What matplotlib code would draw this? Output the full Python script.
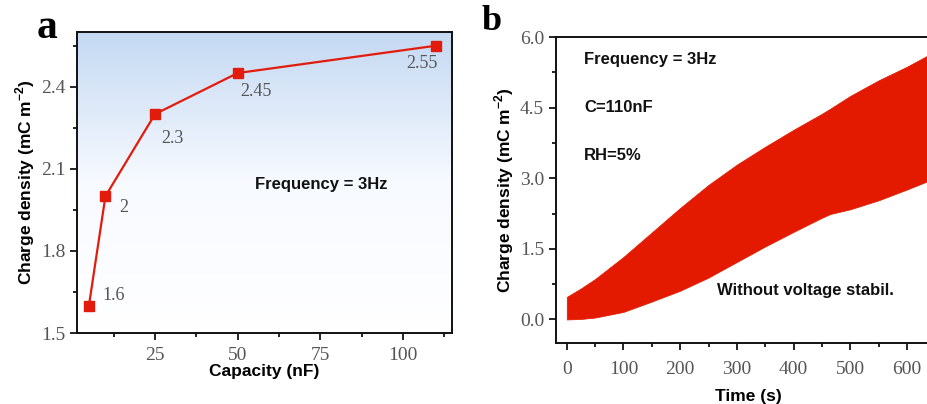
import numpy as np
import matplotlib
matplotlib.use("Agg")
import matplotlib.pyplot as plt
from matplotlib.ticker import MultipleLocator, FormatStrFormatter
from matplotlib.colors import LinearSegmentedColormap

# panel a: charge density vs. capacity
capacity = [5, 10, 25, 50, 110]
density = [1.6, 2.0, 2.3, 2.45, 2.55]

# panel b: envelope of the charge density trace
time_s = [0, 25, 50, 100, 150, 200, 250, 300, 350, 400, 450, 465, 500, 550, 600, 660]
upper = [0.48, 0.66, 0.86, 1.33, 1.85, 2.37, 2.86, 3.29, 3.67, 4.03, 4.37, 4.48, 4.75, 5.08, 5.37, 5.76]
lower = [0.00, 0.01, 0.04, 0.16, 0.38, 0.61, 0.89, 1.22, 1.55, 1.86, 2.16, 2.24, 2.34, 2.53, 2.76, 3.05]

plt.rcParams['font.family'] = ['Liberation Serif', 'DejaVu Serif']
plt.rcParams['mathtext.fontset'] = 'custom'
plt.rcParams['mathtext.rm'] = 'Liberation Sans:bold'
plt.rcParams['mathtext.bf'] = 'Liberation Sans:bold'

sans = ['Liberation Sans', 'DejaVu Sans']
red = '#e31b0c'
grey = '#555555'
ylab = r'Charge density (mC m$^{\mathbf{-2}}$)'

fig = plt.figure(figsize=(9.27, 4.04), dpi=100)
W, H = 927, 404


def px_axes(l, t, r, b):
    return fig.add_axes([l / W, 1 - b / H, (r - l) / W, (b - t) / H])


def style(ax):
    for s in ax.spines.values():
        s.set_linewidth(1.4)
        s.set_color('#111111')
    ax.tick_params(which='both', direction='out', top=False, right=False,
                   labelsize=14, labelcolor=grey, width=1.2)
    ax.tick_params(which='major', length=5)
    ax.tick_params(which='minor', length=3)


# ---------- panel a ----------
ax1 = px_axes(77, 32, 452, 333)
cmap = LinearSegmentedColormap.from_list('bg', [(1, 1, 1), (0.97, 0.98, 1.0), (0.77, 0.85, 0.95)])
grad = np.linspace(0, 1, 256).reshape(-1, 1)
ax1.imshow(grad, cmap=cmap, aspect='auto', extent=[0, 1, 0, 1],
           transform=ax1.transAxes, origin='lower', zorder=0)
ax1.plot(capacity, density, color=red, lw=1.6, marker='s', ms=7,
         mfc=red, mec=red, zorder=3)

offsets = [(14, 10), (14, -11), (6, -24), (3, -18), (1, -18)]
aligns = ['left', 'left', 'left', 'left', 'right']
for xv, yv, off, ha in zip(capacity, density, offsets, aligns):
    ax1.annotate(f'{yv:g}', (xv, yv), xytext=off, textcoords='offset pixels',
                 ha=ha, va='center', fontsize=13, color=grey)

ax1.text(0.475, 0.492, 'Frequency = 3Hz', transform=ax1.transAxes,
         family=sans, fontweight='bold', fontsize=12, va='center', color='#111111')

ax1.set_xlim(1.4, 114.8)
ax1.set_ylim(1.5, 2.6)
ax1.xaxis.set_major_locator(MultipleLocator(25))
ax1.xaxis.set_minor_locator(MultipleLocator(12.5))
ax1.yaxis.set_major_locator(MultipleLocator(0.3))
ax1.yaxis.set_minor_locator(MultipleLocator(0.15))
ax1.yaxis.set_major_formatter(FormatStrFormatter('%.1f'))
style(ax1)
ax1.tick_params(axis='x', pad=5)
ax1.set_xlabel('Capacity (nF)', family=sans, fontweight='bold', fontsize=12.5, labelpad=0)
ax1.set_ylabel(ylab, family=sans, fontweight='bold', fontsize=12.5, labelpad=3)

fig.text(47 / W, 1 - 38 / H, 'a', fontsize=30, fontweight='bold', ha='center', va='baseline')

# ---------- panel b ----------
ax2 = px_axes(556, 37, 556 + 679 * 0.567, 343)
ax2.fill_between(time_s, lower, upper, color='#e31a00', lw=0.5, zorder=2)

ax2.set_xlim(-19, 660)
ax2.set_ylim(-0.5, 6.0)
ax2.xaxis.set_major_locator(MultipleLocator(100))
ax2.xaxis.set_minor_locator(MultipleLocator(50))
ax2.yaxis.set_major_locator(MultipleLocator(1.5))
ax2.yaxis.set_minor_locator(MultipleLocator(0.75))
ax2.yaxis.set_major_formatter(FormatStrFormatter('%.1f'))
style(ax2)
ax2.tick_params(axis='x', pad=8)
ax2.set_xlabel('Time (s)', family=sans, fontweight='bold', fontsize=12.5, labelpad=8)
ax2.set_ylabel(ylab, family=sans, fontweight='bold', fontsize=12.5, labelpad=3)

for txt, yy in [('Frequency = 3Hz', 0.925), ('C=110nF', 0.771), ('RH=5%', 0.614)]:
    ax2.text(0.073, yy, txt, transform=ax2.transAxes, family=sans,
             fontweight='bold', fontsize=12, va='center', color='#111111')
ax2.text(0.418, 0.173, 'Without voltage stabil.', transform=ax2.transAxes, family=sans,
         fontweight='bold', fontsize=12, va='center', color='#111111')

fig.text(492 / W, 1 - 30 / H, 'b', fontsize=26, fontweight='bold', ha='center', va='baseline')

fig.savefig('out.png', dpi=100)
